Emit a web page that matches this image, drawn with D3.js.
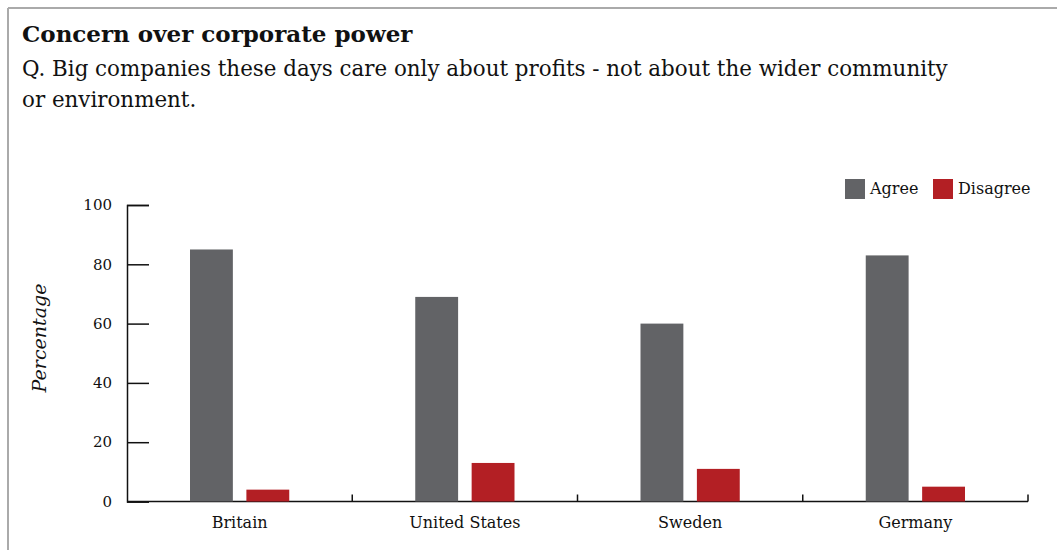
<!DOCTYPE html>
<html>
<head>
<meta charset="utf-8">
<script src="https://cdn.jsdelivr.net/npm/d3@7"></script>
<style>
  html, body { margin: 0; padding: 0; background: #fff; }
  svg { display: block; font-family: "DejaVu Serif", "Liberation Serif", serif; }
</style>
</head>
<body>
<svg id="chart" width="1057" height="550"></svg>
<script>
// Survey responses by country (percent)
const countries = ["Britain", "United States", "Sweden", "Germany"];
const agree = [85, 69, 60, 83];
const disagree = [4, 13, 11, 5];
const seriesNames = ["Agree", "Disagree"];
const seriesColors = ["#626366", "#b31f24"];
const yTicks = [0, 20, 40, 60, 80, 100];

const svg = d3.select("#chart");

// Frame (top and left edges)
svg.append("line").attr("x1", 8).attr("x2", 1057).attr("y1", 8).attr("y2", 8)
  .attr("stroke", "#aaaaaa").attr("stroke-width", 2);
svg.append("line").attr("x1", 8).attr("x2", 8).attr("y1", 8).attr("y2", 550)
  .attr("stroke", "#aaaaaa").attr("stroke-width", 2);

// Title block
svg.append("text").attr("x", 22).attr("y", 42)
  .attr("font-size", 23).attr("font-weight", "bold").attr("fill", "#111")
  .text("Concern over corporate power");
svg.append("text").attr("x", 22).attr("y", 76)
  .attr("font-size", 21.4).attr("fill", "#111")
  .text("Q. Big companies these days care only about profits - not about the wider community");
svg.append("text").attr("x", 22).attr("y", 107)
  .attr("font-size", 21.4).attr("fill", "#111")
  .text("or environment.");

const plotLeft = 127, plotRight = 1028, plotTop = 205, plotBottom = 501.5;

const x = d3.scaleBand().domain(countries).range([plotLeft, plotRight]);
const y = d3.scaleLinear().domain([0, 100]).range([plotBottom, plotTop]);

// Inner positions of the two bars within each country band
const xs = d3.scaleBand().domain(seriesNames).range([63, x.bandwidth() - 63]).paddingInner(0.24);

// Y axis
const yAxis = d3.axisRight(y).tickValues(yTicks).tickSize(22).tickFormat("");
const yg = svg.append("g").attr("transform", `translate(${plotLeft},0)`).call(yAxis);
yg.select(".domain").attr("stroke", "#111").attr("stroke-width", 1.5);
yg.selectAll(".tick line").attr("stroke", "#111").attr("stroke-width", 1.5);
svg.append("g").selectAll("text").data(yTicks).join("text")
  .attr("x", 112).attr("y", d => y(d)).attr("dy", "0.35em")
  .attr("text-anchor", "end").attr("font-size", 15).attr("fill", "#111")
  .text(d => d);

// Y axis title
svg.append("text")
  .attr("transform", `translate(46,338) rotate(-90)`)
  .attr("text-anchor", "middle").attr("font-size", 19).attr("font-style", "italic").attr("fill", "#111")
  .text("Percentage");

// X axis: band boundary ticks pointing up
const bounds = countries.map(c => x(c)).concat([plotRight]);
svg.append("line").attr("x1", plotLeft).attr("x2", plotRight).attr("y1", plotBottom).attr("y2", plotBottom)
  .attr("stroke", "#111").attr("stroke-width", 1.5);
svg.append("g").selectAll("line").data(bounds.slice(1)).join("line")
  .attr("x1", d => d).attr("x2", d => d).attr("y1", plotBottom).attr("y2", plotBottom - 7)
  .attr("stroke", "#111").attr("stroke-width", 1.5);
svg.append("g").selectAll("text").data(countries).join("text")
  .attr("x", d => x(d) + x.bandwidth() / 2).attr("y", 528)
  .attr("text-anchor", "middle").attr("font-size", 16).attr("fill", "#111")
  .text(d => d);

// Bars
const rows = countries.map((c, i) => ({ country: c, values: [agree[i], disagree[i]] }));
const groups = svg.append("g").selectAll("g").data(rows).join("g")
  .attr("transform", d => `translate(${x(d.country)},0)`);
groups.selectAll("rect").data(d => d.values.map((v, j) => ({ key: seriesNames[j], v, j })))
  .join("rect")
  .attr("x", d => xs(d.key)).attr("width", xs.bandwidth())
  .attr("y", d => y(d.v)).attr("height", d => plotBottom - y(d.v))
  .attr("fill", d => seriesColors[d.j]);

// Legend
const legendX = [845, 933];
const lg = svg.append("g").selectAll("g").data(seriesNames).join("g")
  .attr("transform", (d, i) => `translate(${legendX[i]},179)`);
lg.append("rect").attr("width", 20).attr("height", 20).attr("fill", (d, i) => seriesColors[i]);
lg.append("text").attr("x", 25).attr("y", 15).attr("font-size", 16).attr("fill", "#111").text(d => d);
</script>
</body>
</html>
